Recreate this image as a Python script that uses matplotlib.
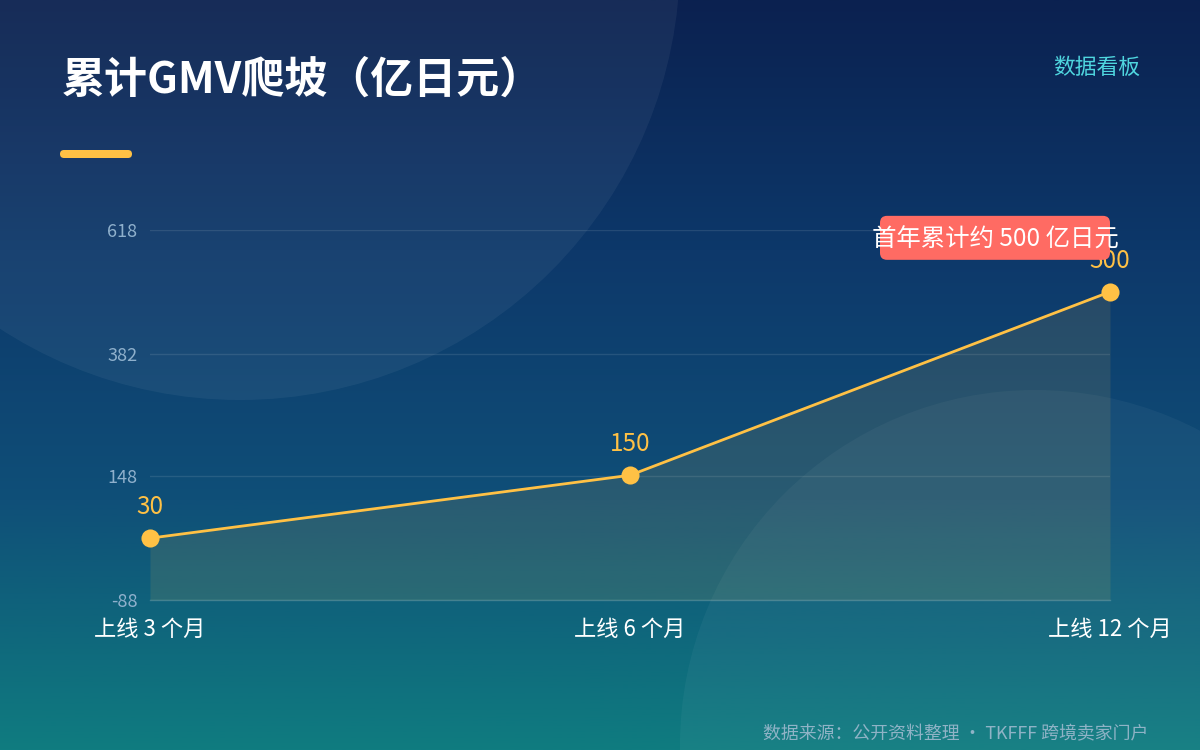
import matplotlib
matplotlib.use("Agg")
import matplotlib.pyplot as plt
import numpy as np
from matplotlib.colors import LinearSegmentedColormap
from matplotlib.patches import Circle, FancyBboxPatch

plt.rcParams["font.family"] = ["Noto Sans CJK SC", "DejaVu Sans"]

# data
stages = ["上线 3 个月", "上线 6 个月", "上线 12 个月"]
gmv = [30, 150, 500]
y_ticks = [-88, 148, 382, 618]
title = "累计GMV爬坡（亿日元）"
badge = "数据看板"
callout = "首年累计约 500 亿日元"
source = "数据来源：公开资料整理 · TKFFF 跨境卖家门户"

W, H = 1200, 750
fig = plt.figure(figsize=(W / 100, H / 100), dpi=100)


def pixel_axes(z):
    a = fig.add_axes([0, 0, 1, 1], zorder=z)
    a.set_xlim(0, W)
    a.set_ylim(H, 0)
    a.axis("off")
    a.patch.set_alpha(0)
    return a


# background in pixel coords (y down)
bg = pixel_axes(0)
cmap = LinearSegmentedColormap.from_list(
    "bg", ["#0b2150", "#0d386a", "#0f4f78", "#0f7c80"])
grad = np.linspace(0, 1, 256).reshape(-1, 1)
bg.imshow(grad, cmap=cmap, extent=[0, W, H, 0], aspect="auto", zorder=0)
bg.add_patch(Circle((240, -40), 440, color="white", alpha=0.05, lw=0, zorder=1))
bg.add_patch(Circle((1035, 745), 355, color="white", alpha=0.04, lw=0, zorder=1))

bg.text(62, 80, title, color="white", fontsize=31, fontweight="bold",
        va="center", ha="left", zorder=3)
bg.add_patch(FancyBboxPatch((60, 150), 72, 8, boxstyle="round,pad=0,rounding_size=4",
                            color="#ffc145", lw=0, zorder=3))
bg.text(1140, 68, badge, color="#4fd6df", fontsize=15.7, va="center", ha="right", zorder=3)
bg.text(1148, 734, source, color="#8fb3c6", fontsize=12.9, va="center", ha="right", zorder=3)

# chart
ax = fig.add_axes([150 / W, 1 - 600 / H, 960 / W, 370 / H], zorder=1)
ax.set_facecolor("none")
x = np.arange(len(stages))
ax.set_xlim(0, len(stages) - 1)
ax.set_ylim(y_ticks[0], y_ticks[-1])

ax.fill_between(x, gmv, y_ticks[0], color="#ffc145", alpha=0.11, lw=0, zorder=2)
ax.plot(x, gmv, color="#ffc145", lw=2, zorder=4, solid_capstyle="round")
ax.scatter(x, gmv, s=170, color="#ffc145", zorder=5, lw=0, clip_on=False)
for xi, v in zip(x, gmv):
    ax.annotate(str(v), (xi, v), xytext=(0, 22.5), textcoords="offset points",
                ha="center", va="center", color="#ffc145", fontsize=17.5, zorder=6)

ax.set_yticks(y_ticks)
ax.set_yticklabels([str(t) for t in y_ticks])
ax.set_xticks(x)
ax.set_xticklabels(stages)
ax.tick_params(axis="y", length=0, pad=9, labelsize=13, labelcolor="#8fb0cc")
ax.tick_params(axis="x", length=0, pad=13, labelsize=16, labelcolor="white")
ax.grid(axis="y", color="white", alpha=0.1, lw=1)
ax.set_axisbelow(True)
for side in ["top", "right", "left"]:
    ax.spines[side].set_visible(False)
ax.spines["bottom"].set_color((1, 1, 1, 0.18))
ax.spines["bottom"].set_linewidth(1)

# callout box above the last point, drawn over the chart
ov = pixel_axes(2)
px, py = ax.transData.transform((x[-1], gmv[-1]))
py_top = H - py  # pixel y from top
ov.add_patch(FancyBboxPatch((880, py_top - 76), 230, 44,
                            boxstyle="round,pad=0,rounding_size=7",
                            color="#ff6b63", lw=0, zorder=7))
ov.text(995, py_top - 52, callout, color="white", fontsize=17.6,
        ha="center", va="center", zorder=8)

fig.savefig("out.png", dpi=100)
